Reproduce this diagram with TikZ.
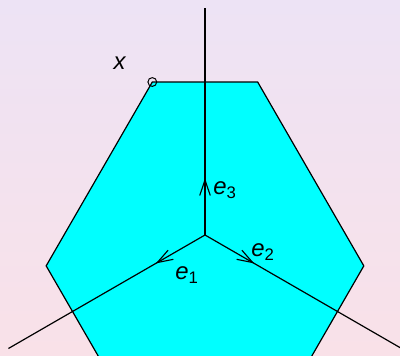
\documentclass[tikz,border=0pt]{standalone}
\usepackage{fontspec}
\setmainfont{Liberation Sans}
\usetikzlibrary{arrows.meta,decorations.markings}

\definecolor{softlavender}{RGB}{237,227,245}
\definecolor{softpink}{RGB}{249,225,232}
\definecolor{hexcyan}{RGB}{0,255,255}

\begin{document}
\begin{tikzpicture}[
x=0.025cm, y=0.025cm,
every node/.style={
font=\fontsize{17}{20}\selectfont
},
ray/.style={
line width=0.85pt,
postaction={decorate},
decoration={markings,
mark=at position 0.25 with {\arrow{Straight Barb[length=11pt,width=7.5pt,line width=0.8pt]}}}
}
]

% =====================================================
% Background
% =====================================================

\shade [top color=softlavender, bottom color=softpink]
(-205,-120) rectangle (195,235);
\useasboundingbox (-205,-120) rectangle (195,235);

% =====================================================
% Hexagon
% =====================================================

\fill [hexcyan]
(71:161.8) -- (109:161.8) -- (191:161.8) --
(229:161.8) -- (311:161.8) -- (349:161.8) -- cycle;

\draw [line width=0.85pt]
(349:161.8) -- (71:161.8) -- (109:161.8) -- (191:161.8) -- (229:161.8)
(311:161.8) -- (349:161.8);

% =====================================================
% Coordinates
% =====================================================

\coordinate (origin) at (0,0);
\coordinate (endthree) at (90:227);
\coordinate (endone) at (210:227);
\coordinate (endtwo) at (330:227);
\coordinate (corner) at (109:161.8);

% =====================================================
% Rays
% =====================================================

\draw [ray] (origin) -- (endthree);

\draw [ray] (origin) -- (endone);

\draw [ray] (origin) -- (endtwo);

% =====================================================
% Labels
% =====================================================

\node (xpoint) [circle, draw, line width=0.7pt, inner sep=0pt,
minimum size=0.22cm] at (corner) {};

\node (xlabel) at (-85,172) {\textit{x}};

\node (ethree) at (20,45) {\textit{e}\textsubscript{3}};

\node (eone) at (-18,-40) {\textit{e}\textsubscript{1}};

\node (etwo) at (58,-17) {\textit{e}\textsubscript{2}};

\end{tikzpicture}
\end{document}
